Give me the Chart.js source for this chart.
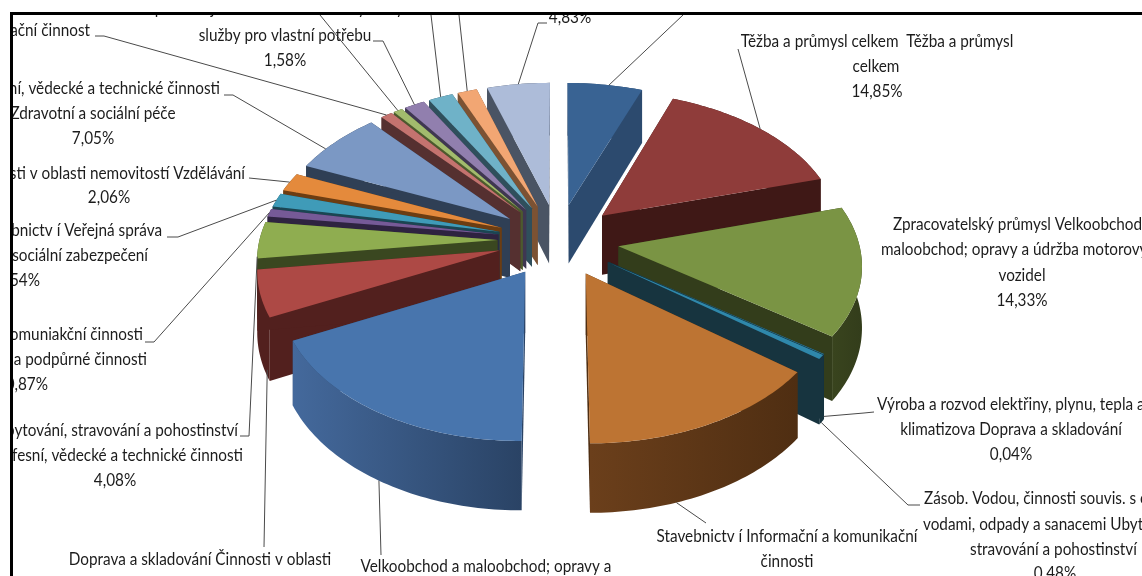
<!DOCTYPE html>
<html>
<head>
<meta charset="utf-8">
<title>Struktura podle odvětví</title>
<script src="https://cdn.jsdelivr.net/npm/chart.js@4"></script>
<style>
    html, body { margin: 0; padding: 0; background: #fff; overflow: hidden; }
    canvas { display: block; }
</style>
</head>
<body>
<canvas id="pieChart" width="1142" height="576"></canvas>
<script>
// Values; the ones hidden by the crop are estimates
const categories = [
    'Zemědělství, lesnictví a rybářství',
    'Těžba a průmysl celkem',
    'Zpracovatelský průmysl',
    'Výroba a rozvod elektřiny, plynu, tepla a klimatizova',
    'Zásob. vodou, činnosti souvis. s odpadními vodami',
    'Stavebnictví',
    'Velkoobchod a maloobchod; opravy a údržba motorových vozidel',
    'Doprava a skladování',
    'Ubytování, stravování a pohostinství',
    'Informační a komunikační činnosti',
    'Peněžnictví a pojišťovnictví',
    'Činnosti v oblasti nemovitostí',
    'Profesní, vědecké a technické činnosti',
    'Administrativní a podpůrné činnosti',
    'Veřejná správa a obrana',
    'Vzdělávání',
    'Zdravotní a sociální péče',
    'Kulturní, zábavní a rekreační činnost',
    'Ostatní činnosti'
];
const shares = [5.7, 14.85, 14.33, 0.04, 0.48, 14.5, 17.8, 5.17, 4.08, 0.87, 1.54, 2.06, 7.05, 0.9, 0.7, 1.58, 1.9, 1.5, 4.83];

const topColors = ['#396393', '#8f3c3a', '#7a9444', '#2f88ab', '#2f88ab', '#bd7433', '#4875ad', '#ad4945', '#8fad50', '#765a97',
    '#3f9bb8', '#e48a3c', '#7b98c4', '#c4736f', '#a2bb6d', '#917fae', '#6fb2c8', '#f2a673', '#adbcd9'];
const sideColors = ['#2c4a6e', '#3f1816', '#333d1b', '#17343f', '#17343f', '#4f2e12', '#2a4365', '#52201e', '#3a4720', '#2e2340',
    '#1b4552', '#6c3d12', '#2f3f55', '#553030', '#4c5a2d', '#3f3751', '#2f4f5c', '#7c5233', '#4a5464'];
const wallLight = ['#2c4a6e', '#3f1816', '#39441e', '#17343f', '#17343f', '#6b3f1b', '#44699c', '#52201e', '#3a4720', '#2e2340',
    '#1b4552', '#6c3d12', '#2f3f55', '#553030', '#4c5a2d', '#3f3751', '#2f4f5c', '#7c5233', '#4a5464'];

// Label text, one entry per printed line
const labelLines = [
    ['produkujících blíže neurčené výrobky a', 285, 9, 'center'],
    ['služby pro vlastní potřebu', 285, 36, 'center'],
    ['1,58%', 285, 61, 'center'],
    ['4,83%', 570, 18, 'center'],
    ['Kulturní, zábavní a rekreační činnost', 90, 31, 'right'],
    ['Profesní, vědecké a technické činnosti', 220, 89, 'right'],
    ['Zdravotní a sociální péče', 93, 114, 'center'],
    ['7,05%', 93, 139, 'center'],
    ['Činnosti v oblasti nemovitostí Vzdělávání', 245, 174, 'right'],
    ['2,06%', 109, 198, 'center'],
    ['Stavebnictv í Veřejná správa', 162, 231, 'right'],
    ['a obrana; povinné sociální zabezpečení', 148, 256, 'right'],
    ['1,54%', 40, 281, 'right'],
    ['Informační a komuniakční činnosti', 143, 335, 'right'],
    ['Administrativní a podpůrné činnosti', 147, 360, 'right'],
    ['0,87%', 48, 385, 'right'],
    ['Ubytování, stravování a pohostinství', 238, 431, 'right'],
    ['Profesní, vědecké a technické činnosti', 243, 456, 'right'],
    ['4,08%', 115, 481, 'center'],
    ['Doprava a skladování Činnosti v oblasti', 200, 560, 'center'],
    ['Velkoobchod a maloobchod; opravy a', 486, 567, 'center'],
    ['Stavebnictv í Informační a komunikační', 787, 537, 'center'],
    ['činnosti', 787, 562, 'center'],
    ['Těžba a průmysl celkem  Těžba a průmysl', 877, 42, 'center'],
    ['celkem', 876, 67, 'center'],
    ['14,85%', 877, 92, 'center'],
    ['Zpracovatelský průmysl Velkoobchod a', 893, 225, 'left'],
    ['maloobchod; opravy a údržba motorových', 881, 250, 'left'],
    ['vozidel', 1022, 276, 'center'],
    ['14,33%', 1022, 301, 'center'],
    ['Výroba a rozvod elektřiny, plynu, tepla a', 877, 405, 'left'],
    ['klimatizova Doprava a skladování', 1011, 430, 'center'],
    ['0,04%', 1011, 455, 'center'],
    ['Zásob. Vodou, činnosti souvis. s odpadními', 924, 499, 'left'],
    ['vodami, odpady a sanacemi Ubytování,', 923, 525, 'left'],
    ['stravování a pohostinství', 970, 550, 'left'],
    ['0,48%', 1055, 574, 'center']
];

// Leader lines: slice, position along its rim, height on the wall, then the text side points
const leaders = [
    [0, 0.55, 0, [[683, 15]]],
    [1, 0.5, 0, [[738, 49]]],
    [3, 1, 0.95, [[874, 412], [864, 413]]],
    [4, 0.5, 1, [[920, 505], [908, 505]]],
    [5, 0.65, 1, [[706, 523]]],
    [6, 0.5, 1, [[381, 555]]],
    [7, 0.1, 0.9, [[264, 547]]],
    [8, 0.05, 0, [[240, 436], [249, 436]]],
    [9, 0.5, 0, [[145, 342], [154, 342]]],
    [10, 0.5, 0, [[167, 237], [178, 237]]],
    [11, 0.5, 0, [[249, 178], [269, 180]]],
    [12, 0.35, 0, [[224, 95], [233, 95]]],
    [13, 0.5, 0, [[95, 36], [104, 36]]],
    [14, 0.5, 0, [[320, 15]]],
    [15, 0.5, 0, [[373, 41], [383, 41]]],
    [16, 0.5, 0, [[431, 15]]],
    [17, 0.5, 0, [[459, 15]]],
    [18, 0.5, 0, [[547, 23], [538, 23]]]
];

// --- 3D view of the pie ---
const view = { cx: 558, cy: 240, rx: 240, rxLeft: 238, ry: 143, perspective: 0.111, depth: 60 };
const frame = { left: 13, top: 15 };
const textSqueeze = 0.9; // Lato is wider than the narrow face in the picture

// Turns a point of a slice (from Chart.js arc geometry) into picture coordinates
function project(arc, u, angle, z) {
    const mid = (arc.startAngle + arc.endAngle) / 2;
    const push = arc.options.offset / arc.outerRadius;
    const wx = push * Math.cos(mid) + u * Math.cos(angle);
    const wy = push * Math.sin(mid) + u * Math.sin(angle);
    const s = 1 / (1 - view.perspective * wy);
    return {
        x: view.cx + (wx < 0 ? view.rxLeft : view.rx) * wx * s,
        y: view.cy + view.ry * wy * s + z * view.depth * s
    };
}

function rimPoints(arc, z) {
    const pts = [];
    const steps = Math.max(2, Math.ceil((arc.endAngle - arc.startAngle) / 0.02));
    for (let i = 0; i <= steps; i++) {
        pts.push(project(arc, 1, arc.startAngle + (arc.endAngle - arc.startAngle) * i / steps, z));
    }
    return pts;
}

function fillPoly(ctx, pts, fill) {
    ctx.beginPath();
    pts.forEach((p, i) => i ? ctx.lineTo(p.x, p.y) : ctx.moveTo(p.x, p.y));
    ctx.closePath();
    ctx.fillStyle = fill;
    ctx.fill();
}

function drawSlice(ctx, arc, i) {
    const tipTop = project(arc, 0, 0, 0);
    const tipBottom = project(arc, 0, 0, 1);
    const rimTop = rimPoints(arc, 0);
    const rimBottom = rimPoints(arc, 1);
    const last = rimTop.length - 1;

    // Cut faces
    fillPoly(ctx, [tipTop, rimTop[0], rimBottom[0], tipBottom], sideColors[i]);
    fillPoly(ctx, [tipTop, rimTop[last], rimBottom[last], tipBottom], sideColors[i]);

    // Outer wall
    const xs = rimTop.map(p => p.x);
    const wall = ctx.createLinearGradient(Math.min(...xs), 0, Math.max(...xs), 0);
    wall.addColorStop(0, wallLight[i]);
    wall.addColorStop(1, sideColors[i]);
    fillPoly(ctx, rimTop.concat(rimBottom.slice().reverse()), wall);

    // Top face
    fillPoly(ctx, [tipTop].concat(rimTop), topColors[i]);
}

const piePlugin = {
    id: 'pie3d',
    beforeDatasetsDraw(chart) {
        const ctx = chart.ctx;
        const arcs = chart.getDatasetMeta(0).data;
        const order = arcs.map((arc, i) => i).sort((a, b) => {
            const midA = (arcs[a].startAngle + arcs[a].endAngle) / 2;
            const midB = (arcs[b].startAngle + arcs[b].endAngle) / 2;
            return Math.sin(midA) - Math.sin(midB);
        });
        ctx.save();
        order.forEach(i => drawSlice(ctx, arcs[i], i));
        ctx.restore();
        return false;
    },
    afterDraw(chart) {
        const ctx = chart.ctx;
        const arcs = chart.getDatasetMeta(0).data;

        ctx.save();
        ctx.beginPath();
        ctx.rect(frame.left, frame.top, chart.width - frame.left, chart.height - frame.top);
        ctx.clip();

        // Leader lines
        ctx.strokeStyle = '#4a4a4a';
        ctx.lineWidth = 1;
        leaders.forEach(([i, along, z, pts]) => {
            const arc = arcs[i];
            const end = project(arc, 1, arc.startAngle + (arc.endAngle - arc.startAngle) * along, z);
            ctx.beginPath();
            pts.forEach((p, n) => n ? ctx.lineTo(p[0], p[1]) : ctx.moveTo(p[0], p[1]));
            ctx.lineTo(end.x, end.y);
            ctx.stroke();
        });

        // Text
        ctx.fillStyle = '#1c1c1c';
        ctx.font = '17px Lato, "Liberation Sans", sans-serif';
        ctx.textBaseline = 'middle';
        labelLines.forEach(([text, x, y, align]) => {
            ctx.save();
            ctx.translate(x, y);
            ctx.scale(textSqueeze, 1);
            ctx.textAlign = align;
            ctx.fillText(text, 0, 0);
            ctx.restore();
        });
        ctx.restore();

        // Black frame, open on the right and at the bottom
        ctx.fillStyle = '#000';
        ctx.fillRect(10, 12, chart.width - 10, 3);
        ctx.fillRect(10, 12, 3, chart.height - 12);
    }
};

new Chart(document.getElementById('pieChart'), {
    type: 'pie',
    data: {
        labels: categories,
        datasets: [{
            data: shares,
            backgroundColor: topColors,
            borderWidth: 0,
            offset: 65
        }]
    },
    options: {
        responsive: false,
        animation: false,
        plugins: {
            legend: { display: false },
            tooltip: { enabled: false }
        }
    },
    plugins: [piePlugin]
});
</script>
</body>
</html>
